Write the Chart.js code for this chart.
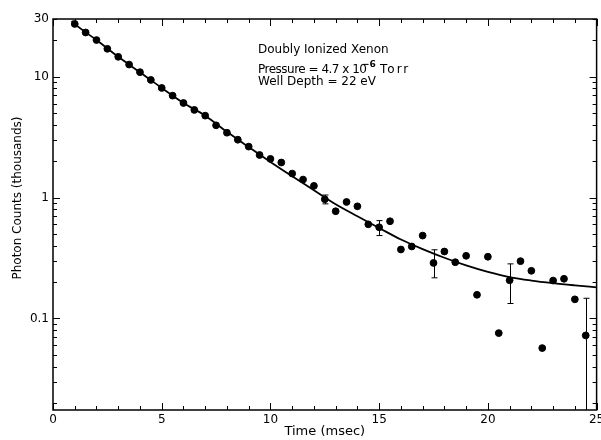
<!DOCTYPE html>
<html>
<head>
<meta charset="utf-8">
<script src="https://cdn.jsdelivr.net/npm/chart.js@4.4.0/dist/chart.umd.min.js"></script>
<style>
  body { margin: 0; background: #fff; }
</style>
</head>
<body>
<canvas id="decayChart" width="601" height="440"></canvas>
<script>
// measured points, time in msec, counts in thousands
const timeMsec = [1, 1.5, 2, 2.5, 3, 3.5, 4, 4.5, 5, 5.5, 6, 6.5,
    7, 7.5, 8, 8.5, 9, 9.5, 10, 10.5, 11, 11.5, 12, 12.5,
    13, 13.5, 14, 14.5, 15, 15.5, 16, 16.5, 17, 17.5, 18, 18.5,
    19, 19.5, 20, 20.5, 21, 21.5, 22, 22.5, 23, 23.5, 24, 24.5];
const photonCounts = [27.3, 23.2, 20.1, 17.0, 14.6, 12.6, 10.9, 9.4, 8.07, 6.97, 6.06, 5.31,
    4.76, 3.96, 3.44, 3.01, 2.64, 2.25, 2.09, 1.95, 1.58, 1.41, 1.25, 0.968,
    0.771, 0.92, 0.847, 0.601, 0.568, 0.637, 0.372, 0.394, 0.485, 0.288, 0.358, 0.292,
    0.330, 0.157, 0.324, 0.0757, 0.207, 0.298, 0.248, 0.0569, 0.206, 0.213, 0.144, 0.0724];

// fitted curve
const fitTime = [0.86, 1, 2, 3, 4, 5, 6, 7, 8, 9, 10, 11, 12, 13, 14, 15, 16, 17, 18, 19, 20, 21, 22, 23, 24, 25];
const fitCounts = [29.0, 27.3, 20.1, 14.6, 10.9, 8.07, 6.06, 4.76, 3.5, 2.62, 1.97, 1.5, 1.15, 0.88,
    0.70, 0.56, 0.45, 0.375, 0.318, 0.275, 0.243, 0.22, 0.206, 0.196, 0.188, 0.181];

// error bars
const errTime = [12.5, 15, 17.5, 21, 24.5];
const errHigh = [1.05, 0.645, 0.37, 0.283, 0.147];
const errLow = [0.887, 0.485, 0.217, 0.133, 0.001];

const xTickLabels = [0, 5, 10, 15, 20, 25];
const yTickLabels = [30, 10, 1, 0.1];

const FONT = "'DejaVu Sans', sans-serif";

const scatterData = timeMsec.map((t, i) => ({ x: t, y: photonCounts[i] }));
const fitData = fitTime.map((t, i) => ({ x: t, y: fitCounts[i] }));

const framePlugin = {
    id: 'frame',
    afterDatasetsDraw(chart) {
        const ctx = chart.ctx;
        const xs = chart.scales.x;
        const ys = chart.scales.y;
        const area = chart.chartArea;
        ctx.save();
        ctx.strokeStyle = '#000';
        ctx.lineWidth = 1;
        for (let i = 0; i < errTime.length; i++) {
            const px = Math.round(xs.getPixelForValue(errTime[i])) + 0.5;
            const top = ys.getPixelForValue(errHigh[i]);
            let bot = ys.getPixelForValue(errLow[i]);
            const clipped = bot > area.bottom;
            if (clipped) bot = area.bottom;
            ctx.beginPath();
            ctx.moveTo(px, top);
            ctx.lineTo(px, bot);
            ctx.moveTo(px - 3, top);
            ctx.lineTo(px + 3, top);
            if (!clipped) {
                ctx.moveTo(px - 3, bot);
                ctx.lineTo(px + 3, bot);
            }
            ctx.stroke();
        }
        ctx.restore();
    },
    afterDraw(chart) {
        const ctx = chart.ctx;
        const xs = chart.scales.x;
        const ys = chart.scales.y;
        const a = chart.chartArea;
        ctx.save();
        ctx.strokeStyle = '#000';
        ctx.lineWidth = 1.5;
        ctx.strokeRect(a.left, a.top, a.right - a.left, a.bottom - a.top);

        // inward ticks
        ctx.lineWidth = 1;
        ctx.beginPath();
        for (let t = 0; t <= 25; t++) {
            const px = Math.round(xs.getPixelForValue(t)) + 0.5;
            const len = t % 5 === 0 ? 7 : 4;
            ctx.moveTo(px, a.bottom);
            ctx.lineTo(px, a.bottom - len);
            ctx.moveTo(px, a.top);
            ctx.lineTo(px, a.top + len);
        }
        [0.01, 0.1, 1, 10].forEach(d => {
            for (let m = 1; m <= 9; m++) {
                const v = m * d;
                if (v < ys.min || v > ys.max) continue;
                const py = Math.round(ys.getPixelForValue(v)) + 0.5;
                const len = m === 1 ? 7 : 4;
                ctx.moveTo(a.left, py);
                ctx.lineTo(a.left + len, py);
                ctx.moveTo(a.right, py);
                ctx.lineTo(a.right - len, py);
            }
        });
        ctx.stroke();

        // y axis title
        ctx.fillStyle = '#000';
        ctx.font = '12px ' + FONT;
        ctx.textAlign = 'center';
        ctx.textBaseline = 'middle';
        ctx.translate(18, 198);
        ctx.rotate(-Math.PI / 2);
        ctx.fillText('Photon Counts (thousands)', 0, 0);
        ctx.restore();

        // annotation
        ctx.save();
        ctx.fillStyle = '#000';
        ctx.textBaseline = 'alphabetic';
        ctx.textAlign = 'left';
        ctx.font = '12px ' + FONT;
        ctx.fillText('Doubly Ionized Xenon', 258, 53);
        const y2 = 73;
        ctx.letterSpacing = '-0.5px';
        ctx.fillText('Pressure = 4.7 x 10', 258, y2);
        ctx.letterSpacing = '0px';
        ctx.font = 'bold 9px ' + FONT;
        ctx.fillText('\u22126', 362, y2 - 6);
        ctx.font = '12px ' + FONT;
        ctx.letterSpacing = '2px';
        ctx.fillText('Torr', 380, y2);
        ctx.letterSpacing = '0px';
        ctx.fillText('Well Depth = 22 eV', 258, 85);
        ctx.restore();
    }
};

const ctx = document.getElementById('decayChart');
const decayChart = new Chart(ctx, {
    type: 'scatter',
    data: {
        datasets: [
            {
                label: 'Measured',
                data: scatterData,
                backgroundColor: '#000',
                borderColor: '#000',
                pointRadius: 3.4,
                pointHoverRadius: 3.4,
                showLine: false
            },
            {
                label: 'Fit',
                data: fitData,
                showLine: true,
                borderColor: '#000',
                borderWidth: 1.8,
                pointRadius: 0,
                cubicInterpolationMode: 'monotone',
                fill: false
            }
        ]
    },
    plugins: [framePlugin],
    options: {
        responsive: false,
        animation: false,
        devicePixelRatio: 1,
        layout: { padding: { top: 19, right: 4, left: 0, bottom: 0 } },
        plugins: {
            legend: { display: false },
            tooltip: { enabled: false }
        },
        scales: {
            x: {
                type: 'linear',
                min: 0,
                max: 25,
                afterBuildTicks: s => { s.ticks = xTickLabels.map(v => ({ value: v })); },
                ticks: {
                    color: '#000',
                    font: { family: FONT, size: 12 },
                    padding: 3,
                    maxRotation: 0
                },
                grid: { display: false, drawTicks: false },
                border: { display: false },
                title: {
                    display: true,
                    text: 'Time (msec)',
                    color: '#000',
                    font: { family: FONT, size: 13 },
                    padding: { top: 0, bottom: 1 }
                },
                afterFit: s => { s.height = 30; s.paddingLeft = 0; s.paddingRight = 0; }
            },
            y: {
                type: 'logarithmic',
                min: 0.0175,
                max: 30,
                afterBuildTicks: s => { s.ticks = yTickLabels.map(v => ({ value: v })); },
                ticks: {
                    color: '#000',
                    font: { family: FONT, size: 12 },
                    padding: 4,
                    callback: v => String(v)
                },
                grid: { display: false, drawTicks: false },
                border: { display: false },
                afterFit: s => { s.width = 53; s.paddingTop = 0; s.paddingBottom = 0; }
            }
        }
    }
});
</script>
</body>
</html>
